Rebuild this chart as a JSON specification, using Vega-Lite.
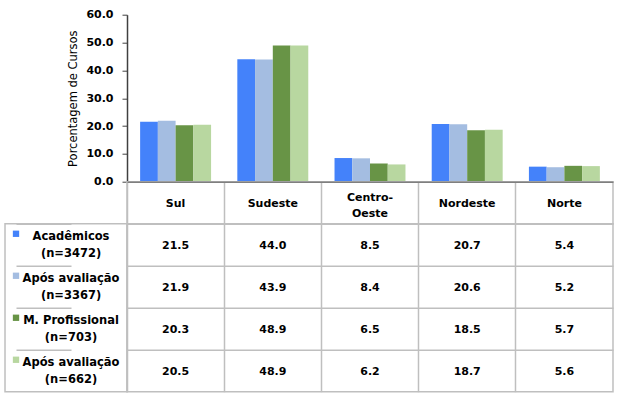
{
  "$schema": "https://vega.github.io/schema/vega-lite/v6.json",
  "padding": {"left": 4, "top": 8.7, "right": 5, "bottom": 4},
  "config": {"font": "DejaVu Sans", "view": {"stroke": null}},
  "datasets": {
    "main": [
      {"region": "Sul", "series": "Acadêmicos\n(n=3472)", "value": 21.5},
      {"region": "Sul", "series": "Após avaliação\n(n=3367)", "value": 21.9},
      {"region": "Sul", "series": "M. Profissional\n(n=703)", "value": 20.3},
      {"region": "Sul", "series": "Após avaliação\n(n=662)", "value": 20.5},
      {"region": "Sudeste", "series": "Acadêmicos\n(n=3472)", "value": 44.0},
      {"region": "Sudeste", "series": "Após avaliação\n(n=3367)", "value": 43.9},
      {"region": "Sudeste", "series": "M. Profissional\n(n=703)", "value": 48.9},
      {"region": "Sudeste", "series": "Após avaliação\n(n=662)", "value": 48.9},
      {"region": "Centro-Oeste", "series": "Acadêmicos\n(n=3472)", "value": 8.5},
      {"region": "Centro-Oeste", "series": "Após avaliação\n(n=3367)", "value": 8.4},
      {"region": "Centro-Oeste", "series": "M. Profissional\n(n=703)", "value": 6.5},
      {"region": "Centro-Oeste", "series": "Após avaliação\n(n=662)", "value": 6.2},
      {"region": "Nordeste", "series": "Acadêmicos\n(n=3472)", "value": 20.7},
      {"region": "Nordeste", "series": "Após avaliação\n(n=3367)", "value": 20.6},
      {"region": "Nordeste", "series": "M. Profissional\n(n=703)", "value": 18.5},
      {"region": "Nordeste", "series": "Após avaliação\n(n=662)", "value": 18.7},
      {"region": "Norte", "series": "Acadêmicos\n(n=3472)", "value": 5.4},
      {"region": "Norte", "series": "Após avaliação\n(n=3367)", "value": 5.2},
      {"region": "Norte", "series": "M. Profissional\n(n=703)", "value": 5.7},
      {"region": "Norte", "series": "Após avaliação\n(n=662)", "value": 5.6}
    ],
    "headers": [
      {"region": "Sul", "label": "Sul", "lines": 1},
      {"region": "Sudeste", "label": "Sudeste", "lines": 1},
      {"region": "Centro-Oeste", "label": "Centro-\nOeste", "lines": 2},
      {"region": "Nordeste", "label": "Nordeste", "lines": 1},
      {"region": "Norte", "label": "Norte", "lines": 1}
    ],
    "series": [
      {"series": "Acadêmicos\n(n=3472)"},
      {"series": "Após avaliação\n(n=3367)"},
      {"series": "M. Profissional\n(n=703)"},
      {"series": "Após avaliação\n(n=662)"}
    ]
  },
  "columns": 2,
  "spacing": 0,
  "bounds": "flush",
  "resolve": {"scale": {"x": "independent", "y": "independent"}},
  "concat": [
    {
      "width": 122,
      "height": 167,
      "data": {"values": [{}]},
      "mark": {"type": "text", "text": ""}
    },
    {
      "width": 486,
      "height": 167,
      "data": {"name": "main"},
      "mark": {"type": "bar"},
      "encoding": {
        "x": {"field": "region", "type": "nominal", "scale": {"domain": ["Sul", "Sudeste", "Centro-Oeste", "Nordeste", "Norte"], "paddingInner": 0.27, "paddingOuter": 0.135}, "axis": null},
        "xOffset": {"field": "series", "type": "nominal", "scale": {"domain": ["Acadêmicos\n(n=3472)", "Após avaliação\n(n=3367)", "M. Profissional\n(n=703)", "Após avaliação\n(n=662)"], "paddingInner": 0, "paddingOuter": 0}},
        "y": {
          "field": "value", "type": "quantitative",
          "scale": {"domain": [0, 60]},
          "axis": {
            "values": [0, 10, 20, 30, 40, 50, 60], "format": ".1f", "grid": false,
            "labelFontWeight": "bold", "labelFontSize": 11, "labelColor": "black", "labelPadding": 9,
            "domainColor": "#404040", "domainWidth": 1.5, "tickColor": "#404040", "tickSize": 5,
            "title": "Porcentagem de Cursos", "titleFontSize": 11.5, "titleFontWeight": "normal", "titleColor": "black", "titlePadding": 7
          }
        },
        "color": {
          "field": "series", "type": "nominal",
          "scale": {"domain": ["Acadêmicos\n(n=3472)", "Após avaliação\n(n=3367)", "M. Profissional\n(n=703)", "Após avaliação\n(n=662)"], "range": ["#4482FA", "#A4BDE1", "#689446", "#B8D7A0"]},
          "legend": null
        }
      }
    },
    {
      "width": 122,
      "height": 42,
      "data": {"values": [{}]},
      "mark": {"type": "text", "text": ""}
    },
    {
      "width": 486,
      "height": 42,
      "data": {"name": "headers"},
      "view": {"stroke": "#BFBFBF", "strokeWidth": 1.5},
      "encoding": {
        "x": {
          "field": "region", "type": "nominal", "bandPosition": 0.5,
          "scale": {"type": "band", "domain": ["Sul", "Sudeste", "Centro-Oeste", "Nordeste", "Norte"], "paddingInner": 0, "paddingOuter": 0},
          "axis": {"orient": "top", "labels": false, "ticks": false, "title": null, "domain": true, "domainColor": "#7F7F7F", "domainWidth": 1.5, "grid": true, "gridColor": "#BFBFBF", "gridWidth": 1.5, "bandPosition": 0}
        },
        "text": {"field": "label"}
      },
      "layer": [
        {
          "transform": [{"filter": "datum.lines == 1"}],
          "mark": {"type": "text", "fontWeight": "bold", "fontSize": 11, "color": "black", "baseline": "middle", "dy": 1}
        },
        {
          "transform": [{"filter": "datum.lines == 2"}],
          "mark": {"type": "text", "lineBreak": "\n", "lineHeight": 16, "fontWeight": "bold", "fontSize": 11, "color": "black", "baseline": "middle", "dy": -4.7}
        }
      ]
    },
    {
      "width": 122,
      "height": 168,
      "data": {"name": "series"},
      "view": {"stroke": "#BFBFBF", "strokeWidth": 1.5},
      "layer": [
        {
          "mark": {"type": "point", "shape": "square", "filled": true, "size": 40, "opacity": 1},
          "encoding": {
            "x": {"datum": "swatch", "type": "nominal", "scale": {"type": "point", "domain": ["swatch", "label"], "range": [11, 66], "padding": 0}, "axis": null},
            "y": {
              "field": "series", "type": "nominal", "bandPosition": 0.24,
              "scale": {"type": "band", "domain": ["Acadêmicos\n(n=3472)", "Após avaliação\n(n=3367)", "M. Profissional\n(n=703)", "Após avaliação\n(n=662)"], "paddingInner": 0, "paddingOuter": 0},
              "axis": {"grid": true, "bandPosition": 0, "labels": false, "ticks": false, "domain": false, "title": null, "gridColor": "#BFBFBF", "gridWidth": 1.5}
            },
            "color": {
              "field": "series", "type": "nominal",
              "scale": {"domain": ["Acadêmicos\n(n=3472)", "Após avaliação\n(n=3367)", "M. Profissional\n(n=703)", "Após avaliação\n(n=662)"], "range": ["#4482FA", "#A4BDE1", "#689446", "#B8D7A0"]},
              "legend": null
            }
          }
        },
        {
          "mark": {"type": "text", "lineBreak": "\n", "fontWeight": "bold", "fontSize": 11.5, "lineHeight": 16.7, "align": "center", "baseline": "middle", "dy": -7.5, "color": "black"},
          "encoding": {
            "x": {"datum": "label", "type": "nominal"},
            "y": {"field": "series", "type": "nominal", "bandPosition": 0.5},
            "text": {"field": "series"}
          }
        }
      ]
    },
    {
      "width": 486,
      "height": 168,
      "data": {"name": "main"},
      "view": {"stroke": "#BFBFBF", "strokeWidth": 1.5},
      "mark": {"type": "text", "fontWeight": "bold", "fontSize": 11, "color": "black", "baseline": "middle", "dy": 1.7},
      "encoding": {
        "x": {
          "field": "region", "type": "nominal", "bandPosition": 0.5,
          "scale": {"type": "band", "domain": ["Sul", "Sudeste", "Centro-Oeste", "Nordeste", "Norte"], "paddingInner": 0, "paddingOuter": 0},
          "axis": {"labels": false, "ticks": false, "title": null, "domain": false, "grid": true, "gridColor": "#BFBFBF", "gridWidth": 1.5, "bandPosition": 0}
        },
        "y": {
          "field": "series", "type": "nominal", "bandPosition": 0.5,
          "scale": {"type": "band", "domain": ["Acadêmicos\n(n=3472)", "Após avaliação\n(n=3367)", "M. Profissional\n(n=703)", "Após avaliação\n(n=662)"], "paddingInner": 0, "paddingOuter": 0},
          "axis": {"grid": true, "bandPosition": 0, "labels": false, "ticks": false, "domain": false, "title": null, "gridColor": "#BFBFBF", "gridWidth": 1.5}
        },
        "text": {"field": "value", "type": "quantitative", "format": ".1f"}
      }
    }
  ]
}
